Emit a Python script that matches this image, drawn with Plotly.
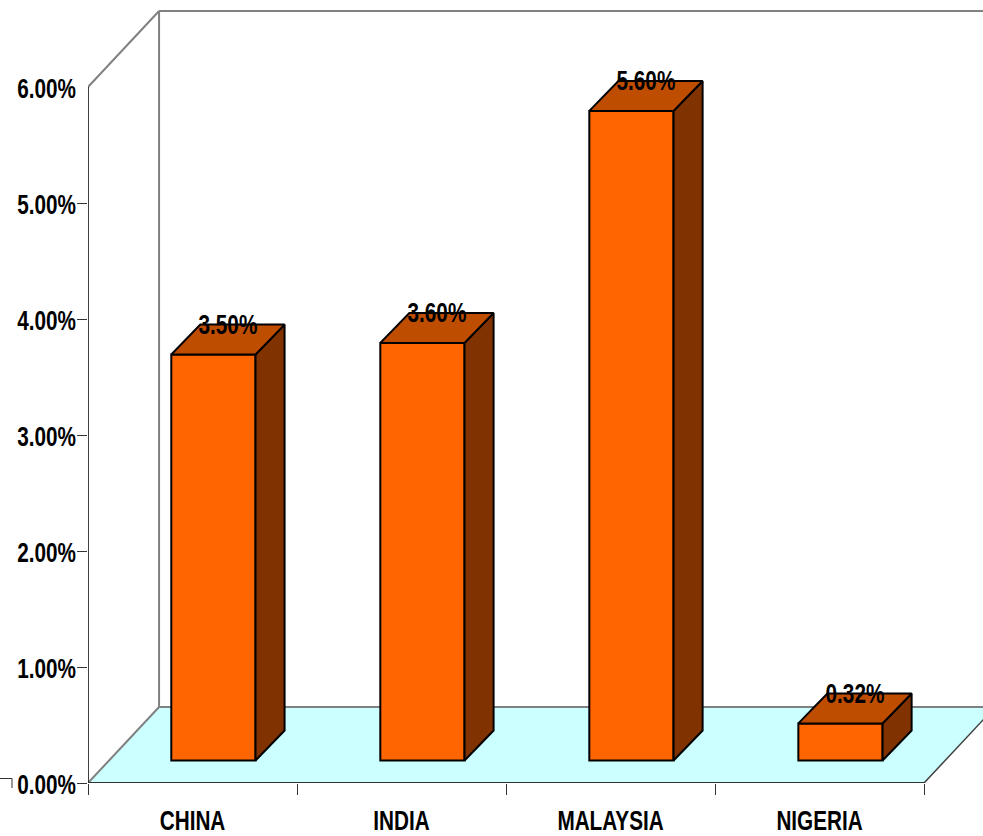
import plotly.graph_objects as go

# Chart content
categories = ["CHINA", "INDIA", "MALAYSIA", "NIGERIA"]
rates = [3.50, 3.60, 5.60, 0.32]
y_ticks = [0, 1, 2, 3, 4, 5, 6]

# Pseudo-3D geometry, in axis units
N = len(categories)
FLOOR_DX, FLOOR_DY = 0.34, 0.655     # depth of the floor and walls
BAR_DX, BAR_DY = 0.139, 0.258        # depth of each column
BAR_BASE = 0.194                     # front edge of the columns above the axis
BAR_W = 0.403
BAR_SHIFT = 0.6                      # column centre within its category slot
LABEL_DROP = 0.02                    # value labels sit just under the rear edge
Y_TOP = 6.0
WALL_TOP = Y_TOP + FLOOR_DY
X_MAX = 4.282
Y_MAX = 6.707

FRONT = "#FF6600"
TOP = "#BF4D00"
SIDE = "#803300"
FLOOR = "#CCFFFF"
WALL = "#808080"
FONT = dict(family="Liberation Sans, Arial, sans-serif", size=28, color="black", weight=700)

# Squeezes the bold labels to a condensed width once the plot has been drawn
CONDENSE_TEXT = """
var gd = document.getElementById('{plot_id}');
gd.querySelectorAll('.xtick text, .ytick text, .textpoint text').forEach(function (t) {
    t.setAttribute('textLength', (t.getComputedTextLength() * 0.74).toFixed(1));
    t.setAttribute('lengthAdjust', 'spacingAndGlyphs');
});
gd.querySelectorAll('.ytick text').forEach(function (t) {
    t.setAttribute('dy', '1.5');
});
"""


def polygons(shapes):
    """Join closed polygons into one x/y list separated by gaps."""
    xs, ys = [], []
    for shape in shapes:
        for x, y in shape + shape[:1]:
            xs.append(x)
            ys.append(y)
        xs.append(None)
        ys.append(None)
    return xs, ys


def line(xs, ys, color, width):
    return go.Scatter(x=xs, y=ys, mode="lines", line=dict(color=color, width=width),
                      hoverinfo="skip", cliponaxis=False)


def backdrop_line(x0, y0, x1, y1, color, width):
    fig.add_shape(type="line", xref="x", yref="y", layer="below",
                  x0=x0, y0=y0, x1=x1, y1=y1, line=dict(color=color, width=width))


centers = [i + BAR_SHIFT for i in range(N)]
lefts = [c - BAR_W / 2 for c in centers]
rights = [c + BAR_W / 2 for c in centers]
tops = [BAR_BASE + v for v in rates]

fig = go.Figure()

# Floor and wall outlines sit beneath every trace
fig.add_shape(type="path", xref="x", yref="y", layer="below", line=dict(width=0), fillcolor=FLOOR,
              path=f"M 0 0 L {N} 0 L {N + FLOOR_DX} {FLOOR_DY} L {FLOOR_DX} {FLOOR_DY} Z")
backdrop_line(0, Y_TOP, FLOOR_DX, WALL_TOP, WALL, 2)
backdrop_line(FLOOR_DX, WALL_TOP, X_MAX + 1, WALL_TOP, WALL, 2)
backdrop_line(FLOOR_DX, WALL_TOP, FLOOR_DX, FLOOR_DY, WALL, 2)
backdrop_line(FLOOR_DX, FLOOR_DY, X_MAX + 1, FLOOR_DY, WALL, 2)
backdrop_line(0, 0, FLOOR_DX, FLOOR_DY, WALL, 2)
backdrop_line(N, 0, N + FLOOR_DX, FLOOR_DY, "#404040", 1.5)

# Column fronts
fig.add_trace(go.Bar(x=centers, y=rates, base=BAR_BASE, width=BAR_W,
                     marker=dict(color=FRONT, line=dict(color="black", width=2)),
                     hoverinfo="skip"))

# Column sides and tops
side_x, side_y = polygons([
    [(r, BAR_BASE), (r + BAR_DX, BAR_BASE + BAR_DY), (r + BAR_DX, t + BAR_DY), (r, t)]
    for r, t in zip(rights, tops)
])
fig.add_trace(go.Scatter(x=side_x, y=side_y, mode="lines", fill="toself", fillcolor=SIDE,
                         line=dict(color="black", width=2), hoverinfo="skip"))
top_x, top_y = polygons([
    [(l, t), (r, t), (r + BAR_DX, t + BAR_DY), (l + BAR_DX, t + BAR_DY)]
    for l, r, t in zip(lefts, rights, tops)
])
fig.add_trace(go.Scatter(x=top_x, y=top_y, mode="lines", fill="toself", fillcolor=TOP,
                         line=dict(color="black", width=2), hoverinfo="skip"))

# Axis lines
fig.add_trace(line([0, 0], [0, Y_TOP], "black", 1.5))
fig.add_trace(line([0, N], [0, 0], "#333333", 2))

# Value labels, set on the rear edge of each column top
fig.add_trace(go.Scatter(x=[c + BAR_DX / 2 for c in centers],
                         y=[t + BAR_DY - LABEL_DROP for t in tops],
                         mode="text", text=[f"{v:.2f}%" for v in rates],
                         textposition="middle center", textfont=FONT,
                         hoverinfo="skip", cliponaxis=False))

# Small corner mark at the far left of the baseline
for x0, y0, x1, y1 in [(0, 778.5, 12, 778.5), (12, 778.5, 12, 788)]:
    fig.add_shape(type="line", xref="paper", yref="paper",
                  x0=(x0 - 88) / (983 - 88), x1=(x1 - 88) / (983 - 88),
                  y0=(783 - y0) / (783 - 5), y1=(783 - y1) / (783 - 5),
                  line=dict(color="#333333", width=1))

fig.update_layout(
    width=983, height=836, autosize=False,
    margin=dict(l=88, r=0, t=5, b=53, autoexpand=False),
    paper_bgcolor="white", plot_bgcolor="white",
    showlegend=False, barmode="overlay",
    xaxis=dict(range=[0, X_MAX], showline=False, showgrid=False, zeroline=False, automargin=False,
               tickmode="array", tickvals=[i + 0.5 for i in range(N)], ticktext=categories,
               ticks="", ticklabelstandoff=18, tickfont=FONT,
               minor=dict(tickmode="array", tickvals=list(range(N + 1)), ticks="outside",
                          ticklen=11, tickwidth=1, tickcolor="#333333", showgrid=False)),
    yaxis=dict(range=[0, Y_MAX], showline=False, showgrid=False, zeroline=False, automargin=False,
               tickmode="array", tickvals=y_ticks, ticktext=[f"{v:.2f}%" for v in y_ticks],
               ticks="", ticklabelstandoff=11, tickfont=FONT,
               minor=dict(tickmode="array", tickvals=y_ticks[:-1], ticks="outside",
                          ticklen=10, tickwidth=1, tickcolor="#333333", showgrid=False)),
)

fig.write_html("out.html", post_script=CONDENSE_TEXT)
